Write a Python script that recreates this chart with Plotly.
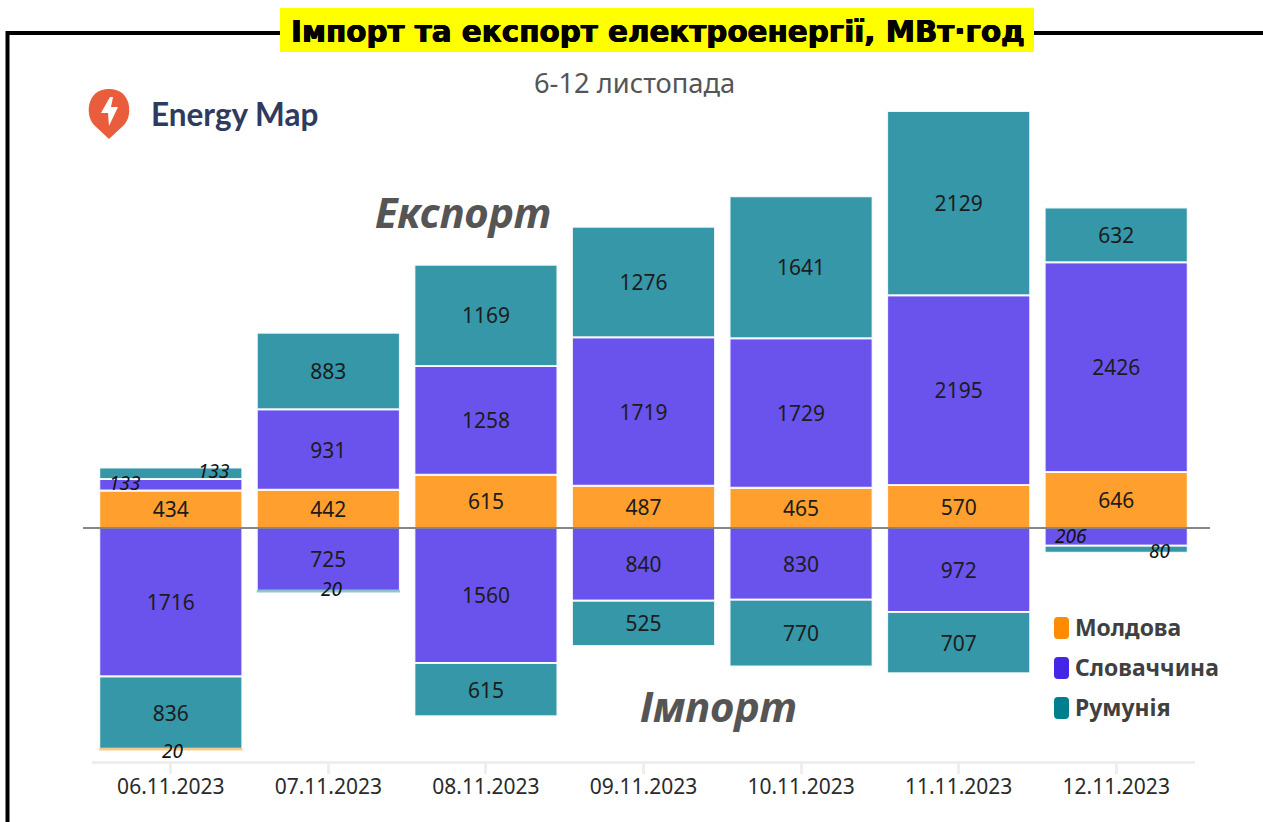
import plotly.graph_objects as go

dates = ["06.11.2023", "07.11.2023", "08.11.2023", "09.11.2023", "10.11.2023", "11.11.2023", "12.11.2023"]
# Printed values for each bar
export_moldova = [434, 442, 615, 487, 465, 570, 646]
# The 11.11 bar in the reference is visibly shorter than its printed 570 (drawn at about 497)
export_moldova_drawn = [434, 442, 615, 487, 465, 497, 646]
export_slovakia = [133, 931, 1258, 1719, 1729, 2195, 2426]
export_romania = [133, 883, 1169, 1276, 1641, 2129, 632]
import_slovakia = [1716, 725, 1560, 840, 830, 972, 206]
import_romania = [836, 20, 615, 525, 770, 707, 80]
import_moldova = [20, 0, 0, 0, 0, 0, 0]

C_MD, C_SK, C_RO = "#FF9F2E", "#6A53EC", "#3597A8"
LEG_MD, LEG_SK, LEG_RO = "#FF8C00", "#4526E6", "#00808F"
W, H = 1263, 822
L, R, T, B = 92, 1195, 100, 761
SCALE = 0.0865
ZERO = 528
SMALL = 250
THIN = 50
FONT = "Noto Sans"


def fx(x):
    return (x - L) / (R - L)


def fy(y):
    return (B - y) / (B - T)


def P(pts):
    return "M " + " L ".join(f"{fx(x):.5f},{fy(y):.5f}" for x, y in pts) + " Z"


def labels(vals):
    return [str(v) if v >= SMALL else "" for v in vals]


fig = go.Figure()
series = [
    ("Молдова", export_moldova_drawn, export_moldova, C_MD, 1),
    ("Словаччина", export_slovakia, export_slovakia, C_SK, 1),
    ("Румунія", export_romania, export_romania, C_RO, 1),
    ("Словаччина", import_slovakia, import_slovakia, C_SK, -1),
    ("Румунія", import_romania, import_romania, C_RO, -1),
    ("Молдова", import_moldova, import_moldova, C_MD, -1),
]
for name, vals, printed, col, sign in series:
    fig.add_bar(
        x=dates, y=[sign * v for v in vals], name=name, showlegend=False,
        marker=dict(color=col,
                    opacity=[1 if v >= THIN else 0.55 for v in vals],
                    line=dict(color="rgba(255,255,255,0.9)",
                              width=[2 if v >= THIN else 0 for v in vals])),
        text=labels(printed), textposition="inside", insidetextanchor="middle",
        textangle=0, constraintext="none",
        insidetextfont=dict(family=FONT, size=21, color="#1c1c1c"),
        hoverinfo="x+y",
    )

shapes = []
# frame
shapes.append(dict(type="path", xref="paper", yref="paper", line=dict(color="black", width=4),
                   path=f"M {fx(7.5)},{fy(824)} L {fx(7.5)},{fy(33)} L {fx(282)},{fy(33)}"))
shapes.append(dict(type="line", xref="paper", yref="paper", line=dict(color="black", width=4),
                   x0=fx(1032), x1=fx(1265), y0=fy(33), y1=fy(33)))
shapes.append(dict(type="rect", xref="paper", yref="paper", fillcolor="#FFFF00", line=dict(width=0),
                   x0=fx(280), x1=fx(1034), y0=fy(8), y1=fy(52)))
# zero line
shapes.append(dict(type="line", xref="paper", yref="y", line=dict(color="#5f5f5f", width=1.5),
                   x0=fx(83), x1=fx(1210), y0=0, y1=0, layer="above"))
# logo pin
c = lambda x, y: f"{fx(x):.5f},{fy(y):.5f}"
pin = (f"M {c(109,139)} L {c(94,125)} C {c(85,116)},{c(86,89)},{c(109,89)} "
       f"C {c(132,89)},{c(133,116)},{c(124,125)} Z")
shapes.append(dict(type="path", xref="paper", yref="paper", fillcolor="#E95D3C", line=dict(width=0), path=pin))
shapes.append(dict(type="path", xref="paper", yref="paper", fillcolor="white", line=dict(width=0),
                   path=P([(110, 97), (101, 113), (108, 113), (109, 126), (118, 107), (111, 107), (113, 97)])))


# legend swatches
def rounded(x0, y0, x1, y1, r=4):
    return (f"M {c(x0+r,y0)} L {c(x1-r,y0)} Q {c(x1,y0)},{c(x1,y0+r)} L {c(x1,y1-r)} "
            f"Q {c(x1,y1)},{c(x1-r,y1)} L {c(x0+r,y1)} Q {c(x0,y1)},{c(x0,y1-r)} "
            f"L {c(x0,y0+r)} Q {c(x0,y0)},{c(x0+r,y0)} Z")


legend_items = [("Молдова", LEG_MD, 628), ("Словаччина", LEG_SK, 668), ("Румунія", LEG_RO, 708)]
for name, col, yc in legend_items:
    shapes.append(dict(type="path", xref="paper", yref="paper", fillcolor=col, line=dict(width=0),
                       path=rounded(1054, yc - 11, 1069, yc + 11)))

ann = []


def text(x, y, s, size, color, anchor="center", family=FONT, **kw):
    ann.append(dict(xref="paper", yref="paper", x=fx(x), y=fy(y), text=s, showarrow=False,
                    xanchor=anchor, yanchor="middle", font=dict(size=size, color=color, family=family, **kw)))


text(657.5, 32, "<b>Імпорт та експорт електроенергії, МВт·год</b>", 29.4, "black", family="DejaVu Sans",
     shadow="0.5px 0 0 black, -0.5px 0 0 black")
text(634.5, 83, "6-12 листопада", 27.3, "#555555")
text(149, 114, "<b>Energy Map</b>", 31.5, "#2F3A5F", "left", "Lato")
text(463, 211, "<b><i>Експорт</i></b>", 42, "#555555")
text(718, 705, "<b><i>Імпорт</i></b>", 42, "#555555")
for name, col, yc in legend_items:
    text(1073, yc - 1, f"<b>{name}</b>", 22.9, "#404040", "left")


def small(i, val, y, xshift, yshift):
    ann.append(dict(xref="x", yref="y", x=dates[i], y=y, text=f"<i>{val}</i>", showarrow=False,
                    xshift=xshift, yshift=yshift, font=dict(family=FONT, size=19, color="#111111")))


small(0, export_slovakia[0], export_moldova[0] + export_slovakia[0] / 2, -46, 2)
small(0, export_romania[0], export_moldova[0] + export_slovakia[0] + export_romania[0] / 2, 43, 2)
small(1, import_romania[1], -(import_slovakia[1] + import_romania[1] / 2), 3, 3)
small(0, import_moldova[0], -(import_slovakia[0] + import_romania[0] + import_moldova[0] / 2), 2, -1)
small(6, import_slovakia[6], -import_slovakia[6] / 2, -45, 1)
small(6, import_romania[6], -(import_slovakia[6] + import_romania[6] / 2), 43, -2)

fig.update_layout(
    width=W, height=H, barmode="relative", bargap=0.092,
    margin=dict(l=L, r=W - R, t=T, b=H - B, pad=0),
    paper_bgcolor="white", plot_bgcolor="white", showlegend=False,
    shapes=shapes, annotations=ann, font=dict(family=FONT),
    xaxis=dict(type="category", showline=True, linecolor="#EEEEEE", linewidth=3, ticks="outside",
               ticklen=10, tickwidth=3, tickcolor="#EEEEEE", showgrid=False, zeroline=False,
               ticklabelstandoff=-5,
               tickfont=dict(family=FONT, size=21, color="#2a2a2a")),
    yaxis=dict(visible=False, range=[-(B - ZERO) / SCALE, (ZERO - T) / SCALE], showgrid=False, zeroline=False),
)

fig.write_html("out.html", config={"displayModeBar": False},
               post_script="document.body.style.margin='0';document.body.style.overflow='hidden';")
